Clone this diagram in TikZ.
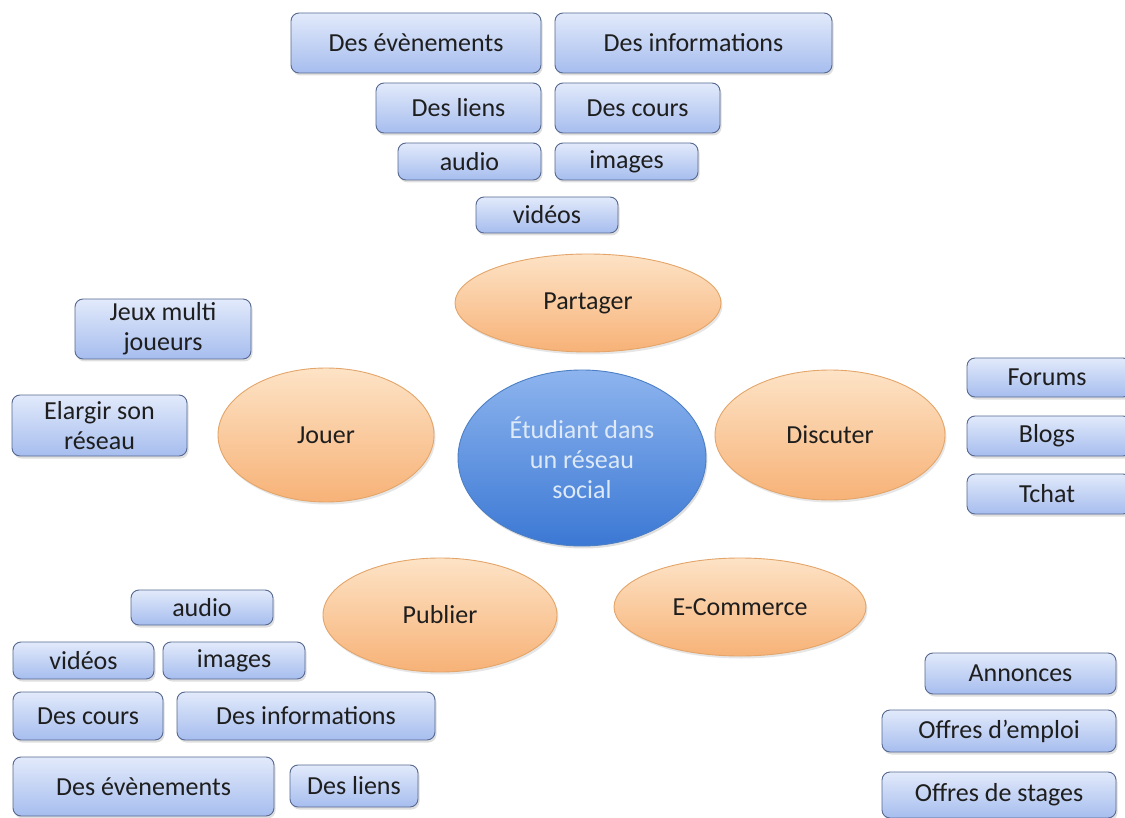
\documentclass[tikz,border=0pt]{standalone}
\usepackage{fontspec}
\setmainfont{Carlito}
\usetikzlibrary{shapes.geometric,shadows}
\definecolor{boxtop}{HTML}{E2EAFB}
\definecolor{boxbot}{HTML}{A6BDEE}
\definecolor{boxline}{HTML}{56688F}
\definecolor{ortop}{HTML}{FDE3C6}
\definecolor{orbot}{HTML}{F7B277}
\definecolor{orline}{HTML}{E3A56A}
\definecolor{bltop}{HTML}{8DB4EE}
\definecolor{blbot}{HTML}{3B78D4}
\definecolor{blline}{HTML}{4C7FC4}
\definecolor{bltext}{HTML}{DDE9F7}
\definecolor{txt}{HTML}{1E1E1E}
\newcommand{\fs}{\fontsize{26}{30}\selectfont}
\tikzset{
  sbox/.style={draw=boxline, line width=0.9pt, rounded corners=8pt,
    top color=boxtop, bottom color=boxbot, text=txt, font=\fs, inner sep=0pt,
    align=center,
    drop shadow={opacity=0.25, shadow xshift=1.5pt, shadow yshift=-2.5pt}},
  oell/.style={ellipse, draw=orline, line width=0.9pt, top color=ortop,
    bottom color=orbot, text=txt, font=\fs, inner sep=0pt, align=center,
    drop shadow={opacity=0.2, shadow xshift=1.5pt, shadow yshift=-2.5pt}},
  bell/.style={ellipse, draw=blline, line width=0.9pt, top color=bltop,
    bottom color=blbot, text=bltext, font=\fs, inner sep=0pt, align=center,
    drop shadow={opacity=0.25, shadow xshift=1.5pt, shadow yshift=-2.5pt}}
}
\begin{document}
\begin{tikzpicture}[x=1pt,y=-1pt]
\useasboundingbox (0,0) rectangle (1125,818);
% top group
\node[sbox, minimum width=250, minimum height=60] (tev) at (416,43) {Des évènements};
\node[sbox, minimum width=277, minimum height=60] (tinf) at (693.5,43) {Des informations};
\node[sbox, minimum width=165, minimum height=50] (tlie) at (458.5,108) {Des liens};
\node[sbox, minimum width=165, minimum height=50] (tcou) at (637.5,108) {Des cours};
\node[sbox, minimum width=143, minimum height=37] (taud) at (469.5,161.5) {audio};
\node[sbox, minimum width=143, minimum height=37] (timg) at (626.5,161.5) {images};
\node[sbox, minimum width=142, minimum height=36] (tvid) at (547,215) {vidéos};
% left
\node[sbox, minimum width=176, minimum height=60] (jeux) at (163,329) {Jeux multi\\joueurs};
\node[sbox, minimum width=175, minimum height=61] (elar) at (99.5,425.5) {Elargir son\\réseau};
% right
\node[sbox, minimum width=164, minimum height=39] (forums) at (1049,377.5) {\hspace*{-4pt}Forums};
\node[sbox, minimum width=164, minimum height=40] (blogs) at (1049,436) {\hspace*{-4pt}Blogs};
\node[sbox, minimum width=164, minimum height=40] (tchat) at (1049,494) {\hspace*{-4pt}Tchat};
% bottom left
\node[sbox, minimum width=142, minimum height=35] (baud) at (202,607.5) {audio};
\node[sbox, minimum width=141, minimum height=37] (bvid) at (83.5,660.5) {vidéos};
\node[sbox, minimum width=142, minimum height=37] (bimg) at (234,660.5) {images};
\node[sbox, minimum width=150, minimum height=48] (bcou) at (88,716) {Des cours};
\node[sbox, minimum width=258, minimum height=48] (binf) at (306,716) {Des informations};
\node[sbox, minimum width=261, minimum height=59] (bev) at (143.5,786.5) {Des évènements};
\node[sbox, minimum width=128, minimum height=42] (blie) at (354,786) {Des liens};
% bottom right
\node[sbox, minimum width=191, minimum height=41] (ann) at (1020.5,673.5) {Annonces};
\node[sbox, minimum width=234, minimum height=42] (emp) at (999,731) {Offres d’emploi};
\node[sbox, minimum width=234, minimum height=46] (sta) at (999,795) {Offres de stages};
% ellipses
\node[oell, minimum width=266, minimum height=98] (part) at (588,303) {Partager};
\node[oell, minimum width=216, minimum height=134] (jouer) at (326,435) {Jouer};
\node[oell, minimum width=230, minimum height=130] (disc) at (830,435) {Discuter};
\node[oell, minimum width=234, minimum height=114] (pub) at (440,615) {Publier};
\node[oell, minimum width=252, minimum height=98] (ecom) at (740,607) {E-Commerce};
\node[bell, minimum width=248, minimum height=176] (etu) at (582,458) {Étudiant dans\\un réseau\\social};
\end{tikzpicture}
\end{document}
